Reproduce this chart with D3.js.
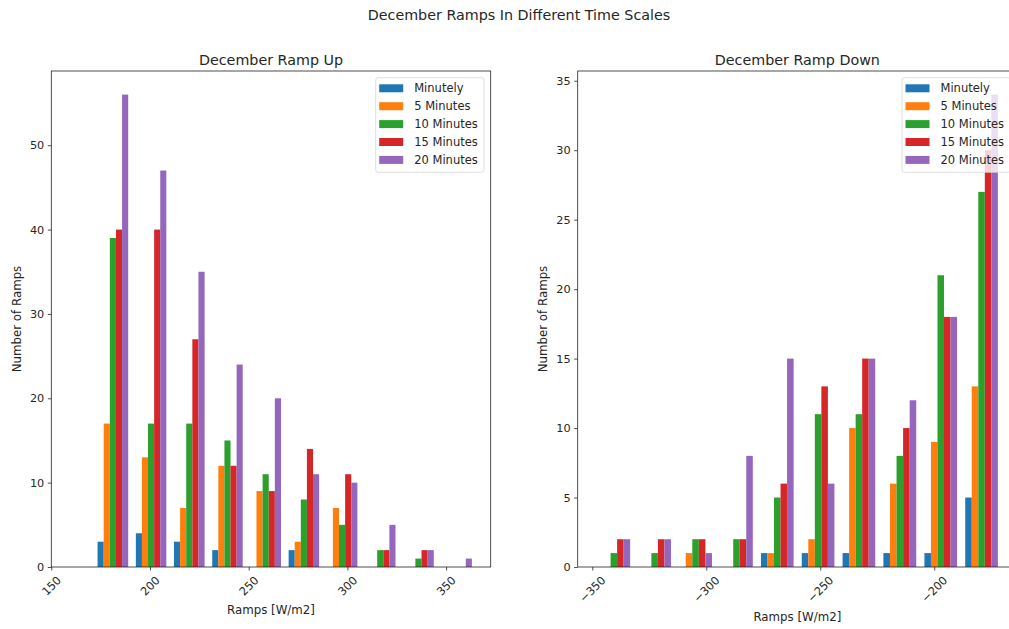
<!DOCTYPE html>
<html>
<head>
<meta charset="utf-8">
<script src="https://cdn.jsdelivr.net/npm/d3@7"></script>
<style>
  body { margin: 0; background: #fff; }
  svg { display: block; font-family: "DejaVu Sans", sans-serif; }
</style>
</head>
<body>
<svg id="chart" width="1009" height="629"></svg>
<script>
// Series shared by both histograms
const seriesNames = ["Minutely", "5 Minutes", "10 Minutes", "15 Minutes", "20 Minutes"];
const seriesColors = ["#1f77b4", "#ff7f0e", "#2ca02c", "#d62728", "#9467bd"];

// Ramp up: bin edges [W/m2] and counts per time scale
const upBinEdges = [171.5, 190.9, 210.2, 229.6, 248.9, 268.3, 287.6, 307.0, 326.3, 345.7, 365.0];
const upMinutely = [3, 4, 3, 2, 0, 2, 0, 0, 0, 0];
const up5Min     = [17, 13, 7, 12, 9, 3, 7, 0, 0, 0];
const up10Min    = [39, 17, 17, 15, 11, 8, 5, 2, 1, 0];
const up15Min    = [40, 40, 27, 12, 9, 14, 11, 2, 2, 0];
const up20Min    = [56, 47, 35, 24, 20, 11, 10, 5, 2, 1];
const upXTicks = [150, 200, 250, 300, 350];
const upYTicks = [0, 10, 20, 30, 40, 50];

// Ramp down: bin edges [W/m2] and counts per time scale
const downBinEdges = [-349.5, -331.6, -313.7, -295.7, -277.8, -259.9, -242.0, -224.1, -206.1, -188.2, -170.3];
const downMinutely = [0, 0, 0, 0, 1, 1, 1, 1, 1, 5];
const down5Min     = [0, 0, 1, 0, 1, 2, 10, 6, 9, 13];
const down10Min    = [1, 1, 2, 2, 5, 11, 11, 8, 21, 27];
const down15Min    = [2, 2, 2, 2, 6, 13, 15, 10, 18, 30];
const down20Min    = [2, 2, 1, 8, 15, 6, 15, 12, 18, 34];
const downXTicks = [-350, -300, -250, -200];
const downYTicks = [0, 5, 10, 15, 20, 25, 30, 35];

const svg = d3.select("#chart");
const TEXT = "#262626";

svg.append("text")
  .attr("x", 519).attr("y", 20)
  .attr("text-anchor", "middle")
  .attr("font-size", 14.3)
  .attr("fill", TEXT)
  .text("December Ramps In Different Time Scales");

function drawPanel(opt) {
  const { left, right, top, bottom } = opt.box;
  const x = d3.scaleLinear().domain(opt.xDomain).range([left, right]);
  const allMax = d3.max(opt.series, s => d3.max(s));
  const y = d3.scaleLinear().domain([0, allMax * 1.05]).range([bottom, top]);
  const g = svg.append("g");
  const n = opt.series.length;

  // grouped histogram bars: 80% of each bin shared by the series
  opt.series.forEach((vals, si) => {
    g.append("g").selectAll("rect")
      .data(vals.map((v, i) => ({ v, x0: opt.edges[i], x1: opt.edges[i + 1] })))
      .join("rect")
      .attr("x", d => {
        const w = d.x1 - d.x0;
        return x(d.x0 + 0.1 * w + si * 0.8 * w / n);
      })
      .attr("width", d => {
        const w = d.x1 - d.x0;
        return x(d.x0 + 0.8 * w / n) - x(d.x0);
      })
      .attr("y", d => y(d.v))
      .attr("height", d => y(0) - y(d.v))
      .attr("fill", seriesColors[si]);
  });

  // y axis
  const yAxis = g.append("g")
    .attr("transform", `translate(${left},0)`)
    .call(d3.axisLeft(y).tickValues(opt.yTicks).tickSize(3.5).tickPadding(3.5).tickFormat(d3.format("d")));
  yAxis.select(".domain").remove();
  yAxis.selectAll("line").attr("stroke", "#222").attr("stroke-width", 0.8);
  yAxis.selectAll("text").attr("font-size", 11.3).attr("fill", TEXT).attr("font-family", "DejaVu Sans");

  // x axis with rotated labels
  const xAxis = g.append("g")
    .attr("transform", `translate(0,${bottom})`)
    .call(d3.axisBottom(x).tickValues(opt.xTicks).tickSize(3.5).tickFormat(d => String(d).replace("-", "\u2212")));
  xAxis.select(".domain").remove();
  xAxis.selectAll("line").attr("stroke", "#222").attr("stroke-width", 0.8);
  xAxis.selectAll("text")
    .attr("font-size", 11.3).attr("fill", TEXT).attr("font-family", "DejaVu Sans")
    .attr("y", 0).attr("dy", null)
    .attr("text-anchor", "middle")
    .attr("dominant-baseline", "central")
    .each(function () {
      const b = this.getBBox();
      const off = 7 + (b.width + b.height) * 0.3536;
      d3.select(this).attr("transform", `translate(0,${off}) rotate(-45)`);
    });

  // frame
  g.append("rect")
    .attr("x", left).attr("y", top)
    .attr("width", right - left).attr("height", bottom - top)
    .attr("fill", "none").attr("stroke", "#222").attr("stroke-width", 0.8);

  // titles
  g.append("text")
    .attr("x", (left + right) / 2).attr("y", top - 6)
    .attr("text-anchor", "middle").attr("font-size", 14.3).attr("fill", TEXT)
    .text(opt.title);
  g.append("text")
    .attr("x", (left + right) / 2).attr("y", opt.xLabelY)
    .attr("text-anchor", "middle").attr("dominant-baseline", "central")
    .attr("font-size", 11.8).attr("fill", TEXT)
    .text("Ramps [W/m2]");
  g.append("text")
    .attr("transform", `translate(${opt.yLabelX},${(top + bottom) / 2}) rotate(-90)`)
    .attr("text-anchor", "middle").attr("dominant-baseline", "central")
    .attr("font-size", 11.8).attr("fill", TEXT)
    .text("Number of Ramps");

  // legend, upper right
  const lw = 108.3, lh = 94.6;
  const lx = right - 6.7 - lw, ly = top + 6.7;
  const leg = g.append("g").attr("transform", `translate(${lx},${ly})`);
  leg.append("rect")
    .attr("width", lw).attr("height", lh).attr("rx", 2.5)
    .attr("fill", "#fff").attr("fill-opacity", 0.8)
    .attr("stroke", "#d5d5d5").attr("stroke-width", 0.8);
  seriesNames.forEach((name, i) => {
    const cy = 10.6 + i * 17.9;
    leg.append("rect")
      .attr("x", 3.5).attr("y", cy - 4).attr("width", 24).attr("height", 8)
      .attr("fill", seriesColors[i]);
    leg.append("text")
      .attr("x", 38.5).attr("y", cy)
      .attr("dominant-baseline", "central")
      .attr("font-size", 11.5).attr("fill", TEXT)
      .text(name);
  });
}

drawPanel({
  box: { left: 51.3, right: 490.7, top: 71, bottom: 567 },
  xDomain: [150, 372.6],
  edges: upBinEdges,
  series: [upMinutely, up5Min, up10Min, up15Min, up20Min],
  xTicks: upXTicks, yTicks: upYTicks,
  title: "December Ramp Up",
  xLabelY: 610, yLabelX: 17
});

drawPanel({
  box: { left: 577.7, right: 1017, top: 71, bottom: 567 },
  xDomain: [-356.4, -163.7],
  edges: downBinEdges,
  series: [downMinutely, down5Min, down10Min, down15Min, down20Min],
  xTicks: downXTicks, yTicks: downYTicks,
  title: "December Ramp Down",
  xLabelY: 616.7, yLabelX: 542.7
});
</script>
</body>
</html>
